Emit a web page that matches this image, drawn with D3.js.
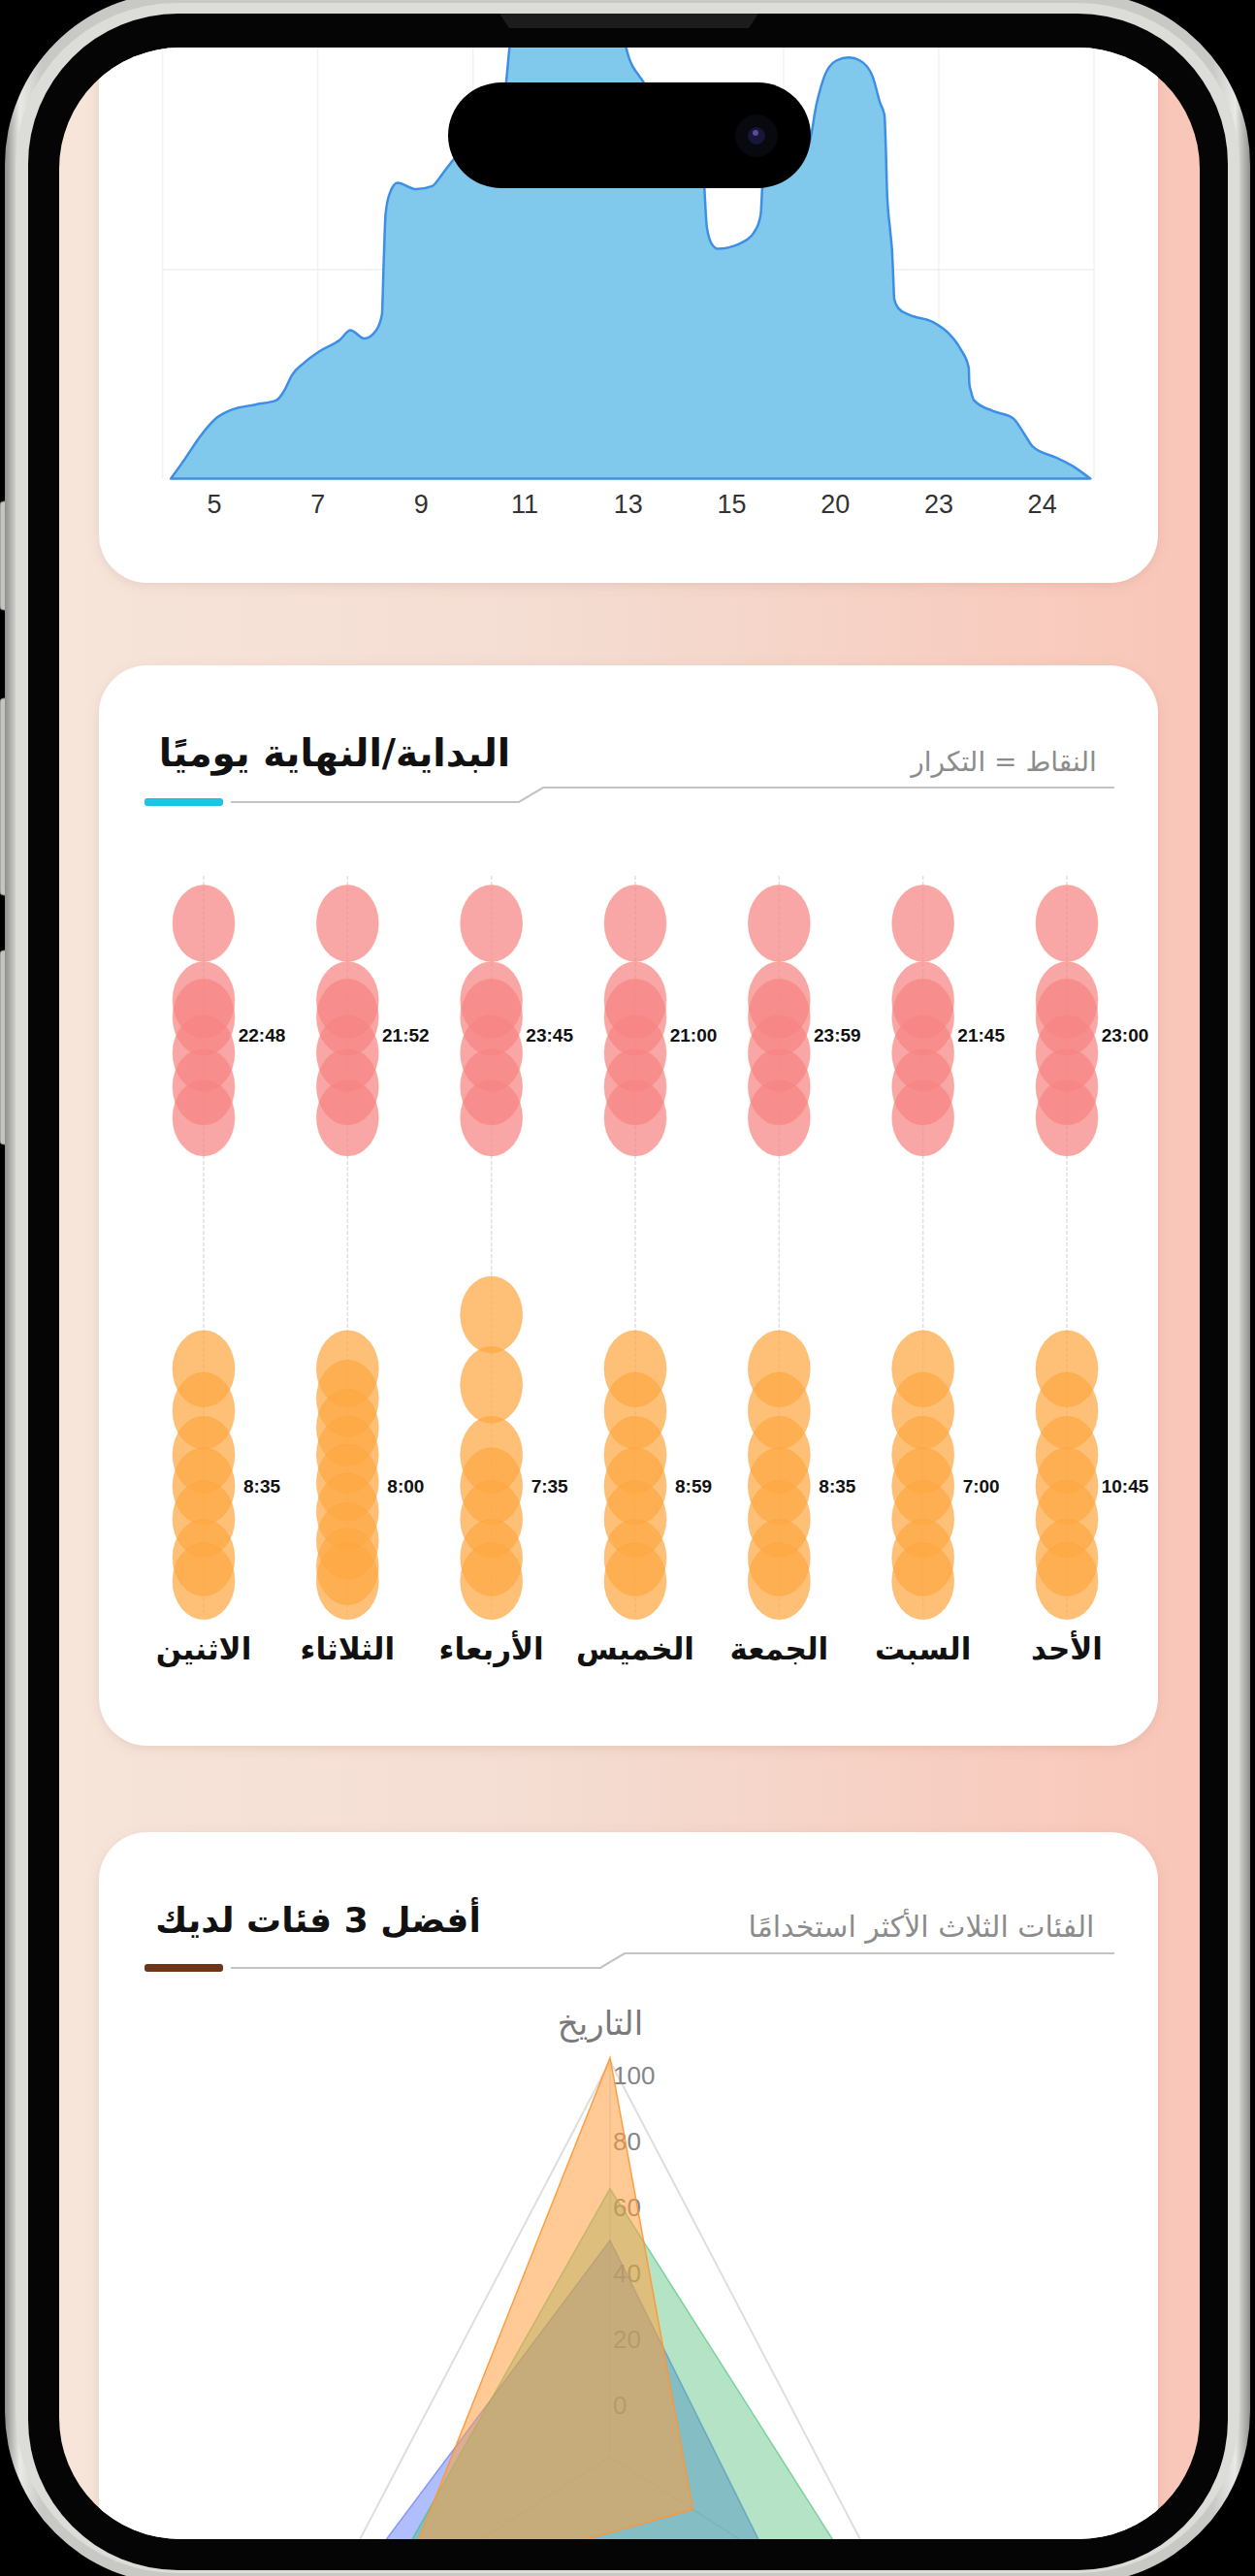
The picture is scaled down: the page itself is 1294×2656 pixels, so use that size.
<!DOCTYPE html>
<html lang="ar"><head><meta charset="utf-8">
<script src="https://cdn.jsdelivr.net/npm/d3@7/dist/d3.min.js"></script>
<style>
html,body{margin:0;padding:0;background:#000;overflow:hidden}
svg{display:block}
</style></head>
<body>
<svg id="chart" width="1294" height="2656" xmlns="http://www.w3.org/2000/svg"></svg>
<script>
// ---------------- DATA ----------------
// Card 1: area chart (category index positions, values)
const areaTickLabels = ["5","7","9","11","13","15","20","23","24"];
const areaPos = [0.16,0.42,0.72,1.04,1.34,1.81,2.20,2.35,2.50,2.74,3.04,3.43,3.63,3.90,4.13,4.24,4.27,4.31,4.39,4.54,4.90,5.21,5.40,5.60,6.04,6.57,6.72,6.98,7.54,8.39,8.80,8.97,9.30,9.89,10.43,10.52,10.62,10.73,11.16,11.46,11.56,11.60,11.95,12.48,12.64,12.79,13.02,13.26,13.48,13.72,13.87,13.95,13.98,14.00,14.06,14.10,14.12,14.14,14.22,14.42,14.88,15.19,15.42,15.58,15.59,15.62,15.68,16.03,16.43,16.65,16.81,17.27,17.59,17.93];
const areaVal = [0,1.8,4.0,5.8,6.6,7.1,7.5,8.4,9.9,11.1,12.2,13.3,14.2,13.4,14.2,15.7,20.1,25.3,27.3,28.3,27.7,28.0,29.1,30.4,32.5,35.5,42,54,57,56,47,41,37.9,33.5,30.5,24,22.4,22,22.5,23.8,25.3,28.5,30.5,31.9,35.9,38.5,40,40.3,40,38.5,35.9,34.8,31.2,27.5,23.8,21.6,19.4,17.2,16.3,15.7,15,13.9,12.4,10.6,9.1,8.4,7.5,6.5,5.8,4.3,3.1,2.0,1.2,0];

// Card 2: start / end per day (hours)
const days = ["الاثنين","الثلاثاء","الأربعاء","الخميس","الجمعة","السبت","الأحد"];
const endLabels = ["22:48","21:52","23:45","21:00","23:59","21:45","23:00"];
const startLabels = ["8:35","8:00","7:35","8:59","8:35","7:00","10:45"];
const endMon = [24.0,21.9,21.43,20.45,19.53,18.68];
const endTue = [24.0,21.9,21.43,20.45,19.53,18.68];
const endWed = [24.0,21.9,21.43,20.45,19.53,18.68];
const endThu = [24.0,21.9,21.43,20.45,19.53,18.68];
const endFri = [24.0,21.9,21.43,20.45,19.53,18.68];
const endSat = [24.0,21.9,21.43,20.45,19.53,18.68];
const endSun = [24.0,21.9,21.43,20.45,19.53,18.68];
const startMon = [11.81,10.66,9.46,8.6,7.7,6.64,6.0];
const startTue = [11.81,11.0,10.2,9.46,8.7,7.9,7.1,6.4,6.0];
const startWed = [13.29,11.37,9.46,8.6,7.7,6.64,6.0];
const startThu = [11.81,10.66,9.46,8.6,7.7,6.64,6.0];
const startFri = [11.81,10.66,9.46,8.6,7.7,6.64,6.0];
const startSat = [11.81,10.66,9.46,8.6,7.7,6.64,6.0];
const startSun = [11.81,10.66,9.46,8.6,7.7,6.64,6.0];
const endHours = [endMon,endTue,endWed,endThu,endFri,endSat,endSun];
const startHours = [startMon,startTue,startWed,startThu,startFri,startSat,startSun];

// Card 3: radar (only the top axis label is visible on screen)
const radarAxes = ["التاريخ","",""];
const radarTicks = [0,20,40,60,80,100];
const seriesBlue = [45.6,40.7,99.7];
const seriesGreen = [61.3,90.4,71.3];
const seriesOrange = [101,12,62];

// ---------------- DRAW ----------------
const W=1294,H=2656;
const LATIN="'Liberation Sans', Arial, Helvetica, sans-serif";
const AR="'DejaVu Sans', sans-serif";
const svg=d3.select("#chart");
const defs=svg.append("defs");

const bg=defs.append("linearGradient").attr("id","bg").attr("x1",0).attr("x2",1).attr("y1",0).attr("y2",0);
[[0,"#f7e5da"],[0.45,"#f4dcd1"],[1,"#f9c6b8"]].forEach(s=>bg.append("stop").attr("offset",s[0]).attr("stop-color",s[1]));
const sil=defs.append("linearGradient").attr("id","sil").attr("x1",0).attr("x2",1);
[[0,"#8e8e8a"],[0.012,"#e9e9e5"],[0.03,"#c8c8c4"],[0.97,"#c8c8c4"],[0.988,"#e9e9e5"],[1,"#8e8e8a"]].forEach(s=>sil.append("stop").attr("offset",s[0]).attr("stop-color",s[1]));
defs.append("clipPath").attr("id","scr").append("rect").attr("x",61).attr("y",49).attr("width",1176).attr("height",2569).attr("rx",125);
const sh=defs.append("filter").attr("id","sh").attr("x","-10%").attr("y","-10%").attr("width","120%").attr("height","120%");
sh.append("feDropShadow").attr("dx",0).attr("dy",3).attr("stdDeviation",6).attr("flood-color","#a0705f").attr("flood-opacity",0.18);

// phone body
svg.append("rect").attr("width",W).attr("height",H).attr("fill","#000");
[[517,112],[720,203],[980,200]].forEach(b=>svg.append("rect").attr("x",0).attr("y",b[0]).attr("width",14).attr("height",b[1]).attr("rx",4).attr("fill","#c4c4c0").attr("stroke","#888884").attr("stroke-width",1));
svg.append("rect").attr("x",5).attr("y",-8).attr("width",1284).attr("height",2672).attr("rx",178).attr("fill","url(#sil)");
svg.append("rect").attr("x",16).attr("y",3).attr("width",1262).attr("height",2650).attr("rx",166).attr("fill","#dcdcd8");
svg.append("rect").attr("x",29).attr("y",14).attr("width",1237).attr("height",2636).attr("rx",155).attr("fill","#050505");
svg.append("path").attr("d","M515,14 L782,14 L772,29 L525,29 Z").attr("fill","#1c1c1c");

const g=svg.append("g").attr("clip-path","url(#scr)");
g.append("rect").attr("x",61).attr("y",49).attr("width",1176).attr("height",2569).attr("fill","url(#bg)");

// cards
[[-100,701],[686,1114],[1889,900]].forEach(c=>g.append("rect").attr("x",102).attr("y",c[0]).attr("width",1092).attr("height",c[1]).attr("rx",50).attr("fill","#fff").attr("filter","url(#sh)"));

// ---- Card 1 area chart ----
const xA=d3.scaleLinear().domain([0,18]).range([167.6,1128]);
const yA=d3.scaleLinear().domain([0,20]).range([493.5,278]);
const c1=g.append("g");
d3.range(0,19,3).forEach(i=>c1.append("line").attr("x1",xA(i)).attr("x2",xA(i)).attr("y1",0).attr("y2",yA(0)).attr("stroke","#f2f2f2").attr("stroke-width",1.5));
c1.append("line").attr("x1",xA(0)).attr("x2",xA(18)).attr("y1",yA(20)).attr("y2",yA(20)).attr("stroke","#efefef").attr("stroke-width",1.5);
const areaData=areaPos.map((p,i)=>({p,v:areaVal[i]}));
const area=d3.area().curve(d3.curveMonotoneX).x(d=>xA(d.p)).y0(yA(0)).y1(d=>yA(d.v));
c1.append("path").attr("d",area(areaData)).attr("fill","#80c8ec").attr("stroke","#3d8fe6").attr("stroke-width",2.5).attr("stroke-linejoin","round");
areaTickLabels.forEach((t,i)=>c1.append("text").attr("x",xA(2*i+1)).attr("y",529).attr("text-anchor","middle").attr("font-family",LATIN).attr("font-size",27).attr("fill","#333").text(t));

// ---- header helper ----
function header(y0, title, sub, titleX, subX, tSize, sSize, accent, bendX){
  const hg=g.append("g");
  hg.append("text").attr("x",titleX).attr("y",y0).attr("direction","rtl").attr("text-anchor","middle").attr("font-family",AR).attr("font-weight","bold").attr("font-size",tSize).attr("fill","#111").text(title);
  hg.append("text").attr("x",subX).attr("y",y0+5).attr("direction","rtl").attr("text-anchor","middle").attr("font-family",AR).attr("font-size",sSize).attr("fill","#8c8c8c").text(sub);
  const ly=y0+37, uy=y0+22;
  hg.append("path").attr("d",`M238,${ly} L${bendX},${ly} L${bendX+25},${uy} L1149,${uy}`).attr("fill","none").attr("stroke","#c4c4c4").attr("stroke-width",2.2);
  hg.append("rect").attr("x",149).attr("y",ly-4).attr("width",81).attr("height",8).attr("rx",3).attr("fill",accent);
}
header(790,"البداية/النهاية يوميًا","النقاط = التكرار",345,1035,39,28,"#1cc4e6",535);
header(1992,"أفضل 3 فئات لديك","الفئات الثلاث الأكثر استخدامًا",328,950,36,30,"#6e3519",619);

// ---- Card 2 dot plot ----
const xD=d3.scalePoint().domain(days).range([210,1100]);
const yT=d3.scaleLinear().domain([5.05,25.3]).range([1666,903]);
const c2=g.append("g");
days.forEach(d=>c2.append("line").attr("x1",xD(d)).attr("x2",xD(d)).attr("y1",yT.range()[1]).attr("y2",yT.range()[0]).attr("stroke","#e0e0e0").attr("stroke-width",1.5).attr("stroke-dasharray","4,2"));
const RX=32, RY=39.5;
days.forEach((d,i)=>{
  endHours[i].forEach(h=>c2.append("ellipse").attr("cx",xD(d)).attr("cy",yT(h)).attr("rx",RX).attr("ry",RY).attr("fill","rgb(247,132,132)").attr("fill-opacity",0.72).attr("stroke","rgb(250,150,120)").attr("stroke-opacity",0.35).attr("stroke-width",1));
  startHours[i].forEach(h=>c2.append("ellipse").attr("cx",xD(d)).attr("cy",yT(h)).attr("rx",RX).attr("ry",RY).attr("fill","rgb(253,167,66)").attr("fill-opacity",0.72).attr("stroke","rgb(253,160,60)").attr("stroke-opacity",0.35).attr("stroke-width",1));
});
const endLabelY=yT(d3.mean(endHours.flat()))+9;
const startLabelY=yT(d3.mean(startHours.flat()))+12;
days.forEach((d,i)=>{
  c2.append("text").attr("x",xD(d)+60).attr("y",endLabelY).attr("text-anchor","middle").attr("font-family",LATIN).attr("font-weight","bold").attr("font-size",19).attr("fill","#111").text(endLabels[i]);
  c2.append("text").attr("x",xD(d)+60).attr("y",startLabelY).attr("text-anchor","middle").attr("font-family",LATIN).attr("font-weight","bold").attr("font-size",19).attr("fill","#111").text(startLabels[i]);
  c2.append("text").attr("x",xD(d)).attr("y",1711).attr("direction","rtl").attr("text-anchor","middle").attr("font-family",AR).attr("font-weight","bold").attr("font-size",31).attr("fill","#111").text(d);
});

// ---- Card 3 radar ----
const cx=629, cy=2533, SX=1/1.104;
const rS=d3.scaleLinear().domain([-20,100]).range([0,408]);
function pt(k,v){const a=-Math.PI/2+k*2*Math.PI/3;const r=rS(v);return [cx+r*Math.cos(a)*SX, cy+r*Math.sin(a)];}
const c3=g.append("g");
radarAxes.forEach((a,k)=>{const p=pt(k,100);c3.append("line").attr("x1",cx).attr("y1",cy).attr("x2",p[0]).attr("y2",p[1]).attr("stroke","#e6e6e6").attr("stroke-width",1.5);});
c3.append("polygon").attr("points",radarAxes.map((a,k)=>pt(k,100).join(",")).join(" ")).attr("fill","none").attr("stroke","#dedede").attr("stroke-width",2);
radarTicks.forEach(t=>c3.append("text").attr("x",cx+3).attr("y",pt(0,t)[1]+24).attr("font-family",LATIN).attr("font-size",26).attr("fill","#858585").text(t));
radarAxes.forEach((a,k)=>{ if(!a) return; const p=pt(k,100);
  c3.append("text").attr("x",p[0]-10).attr("y",p[1]-27).attr("direction","rtl").attr("text-anchor","middle").attr("font-family",AR).attr("font-size",34).attr("fill","#7a7a7a").text(a);});
const radarSeries=[[seriesBlue,"rgba(80,110,250,0.45)","rgba(80,110,250,0.6)"],[seriesGreen,"rgba(68,188,110,0.4)","rgba(68,188,110,0.6)"],[seriesOrange,"rgba(255,159,64,0.55)","rgba(255,150,50,0.9)"]];
radarSeries.forEach(s=>c3.append("polygon").attr("points",s[0].map((v,k)=>pt(k,v).join(",")).join(" ")).attr("fill",s[1]).attr("stroke",s[2]).attr("stroke-width",1.5));

// ---- Dynamic island ----
svg.append("rect").attr("x",462).attr("y",85).attr("width",374).attr("height",109).attr("rx",54.5).attr("fill","#000");
svg.append("circle").attr("cx",780).attr("cy",140).attr("r",22).attr("fill","#08080f");
svg.append("circle").attr("cx",780).attr("cy",140).attr("r",9).attr("fill","#161638");
svg.append("circle").attr("cx",779).attr("cy",137).attr("r",3).attr("fill","#5a4a9a");
</script>
</body></html>
